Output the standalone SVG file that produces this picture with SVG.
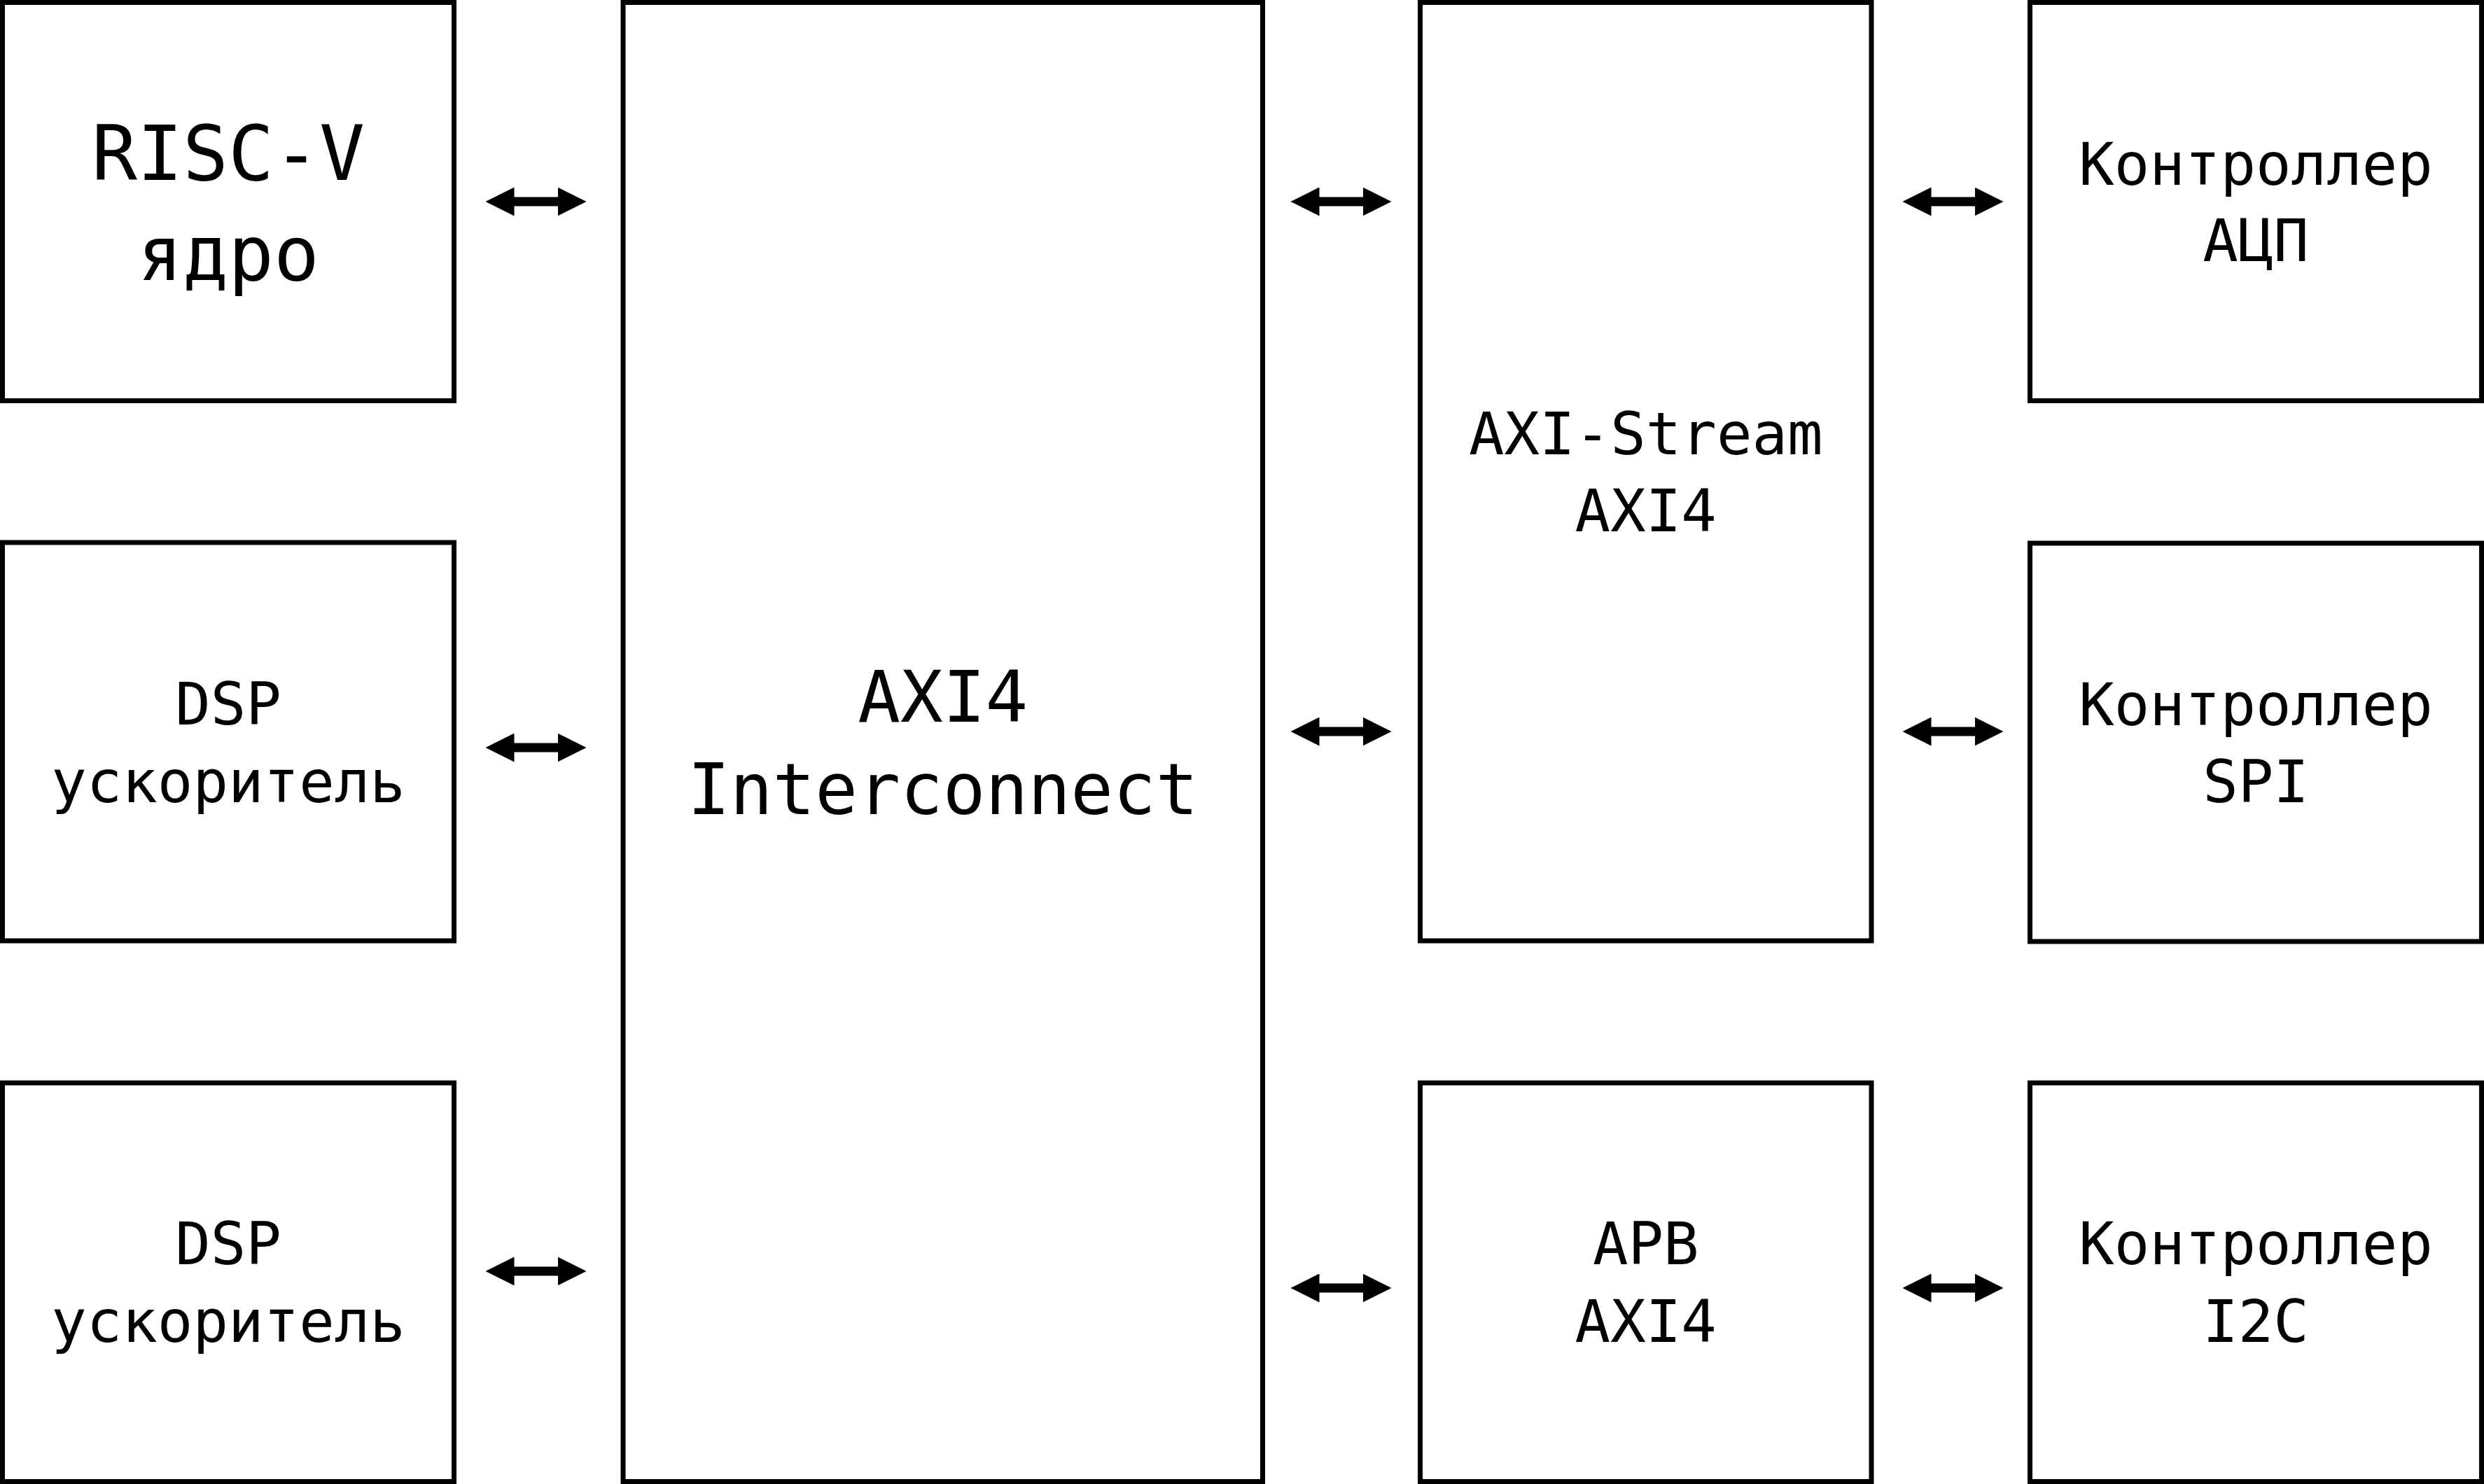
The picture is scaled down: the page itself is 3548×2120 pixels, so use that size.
<svg xmlns="http://www.w3.org/2000/svg" width="3548" height="2120" viewBox="0 0 3548 2120">
<style>
.box{fill:#fff;stroke:#000;stroke-width:7}
.t{font-family:"DejaVu Sans Mono","Liberation Mono",monospace;fill:#000;text-anchor:middle;font-size:84px}
.big{font-size:108px}
.mid{font-size:101px}
.conn line{stroke:#000;stroke-width:13;marker-start:url(#ah);marker-end:url(#ah)}
</style>
<defs>
<marker id="ah" viewBox="0 -20.5 41 41" refX="0.5" refY="0" markerWidth="41" markerHeight="41" markerUnits="userSpaceOnUse" orient="auto-start-reverse">
<path d="M0,-20.5 L41,0 L0,20.5 Z" fill="#000"/>
</marker>
</defs>
<rect width="3548" height="2120" fill="#fff"/>
<g id="risc-v">
<rect class="box" x="3.5" y="3.5" width="645" height="569"/>
<text class="t big" x="326" y="257">RISC-V</text>
<text class="t big" x="326" y="400">ядро</text>
</g>
<g id="dsp1">
<rect class="box" x="3.5" y="775" width="645" height="569"/>
<text class="t" x="326" y="1035">DSP</text>
<text class="t" x="326" y="1146">ускоритель</text>
</g>
<g id="dsp2">
<rect class="box" x="3.5" y="1547" width="645" height="569.5"/>
<text class="t" x="326" y="1806">DSP</text>
<text class="t" x="326" y="1917">ускоритель</text>
</g>
<g id="axi4-interconnect">
<rect class="box" x="890" y="3.5" width="913.5" height="2113"/>
<text class="t mid" x="1346.75" y="1031">AXI4</text>
<text class="t mid" x="1346.75" y="1163">Interconnect</text>
</g>
<g id="axi-stream">
<rect class="box" x="2028.5" y="3.5" width="644.5" height="1340.5"/>
<text class="t" x="2350.75" y="649">AXI-Stream</text>
<text class="t" x="2350.75" y="759">AXI4</text>
</g>
<g id="apb">
<rect class="box" x="2028.5" y="1547" width="644.5" height="569.5"/>
<text class="t" x="2350.75" y="1806">APB</text>
<text class="t" x="2350.75" y="1917">AXI4</text>
</g>
<g id="ctrl-adc">
<rect class="box" x="2899.5" y="3.5" width="645" height="569"/>
<text class="t" x="3222" y="264">Контроллер</text>
<text class="t" x="3222" y="373">АЦП</text>
</g>
<g id="ctrl-spi">
<rect class="box" x="2899.5" y="776" width="645" height="569"/>
<text class="t" x="3222" y="1036">Контроллер</text>
<text class="t" x="3222" y="1146">SPI</text>
</g>
<g id="ctrl-i2c">
<rect class="box" x="2899.5" y="1547" width="645" height="569.5"/>
<text class="t" x="3222" y="1806">Контроллер</text>
<text class="t" x="3222" y="1917">I2C</text>
</g>
<g id="connectors" class="conn">
<line x1="734" y1="288" x2="797" y2="288"/>
<line x1="734" y1="1068" x2="797" y2="1068"/>
<line x1="734" y1="1816" x2="797" y2="1816"/>
<line x1="1884" y1="288" x2="1947" y2="288"/>
<line x1="1884" y1="1045" x2="1947" y2="1045"/>
<line x1="1884" y1="1840" x2="1947" y2="1840"/>
<line x1="2758" y1="288" x2="2821" y2="288"/>
<line x1="2758" y1="1045" x2="2821" y2="1045"/>
<line x1="2758" y1="1840" x2="2821" y2="1840"/>
</g>
</svg>
